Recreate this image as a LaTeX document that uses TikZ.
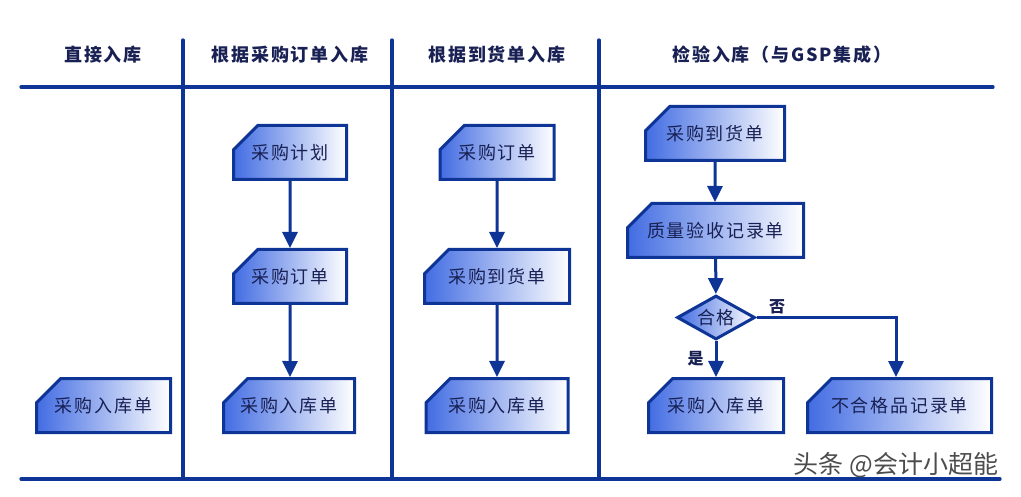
\documentclass[tikz,border=0pt]{standalone}
\usepackage{fontspec}
\setmainfont{Noto Sans CJK SC}[LetterSpace=10]
\newfontfamily\wmfont{Noto Sans CJK SC}
\usetikzlibrary{positioning, shapes.misc, shapes.geometric, arrows.meta}

\definecolor{lanecol}{RGB}{14,52,150}
\definecolor{cardfill}{RGB}{66,108,226}
\definecolor{inktext}{RGB}{24,32,84}

\tikzset{
	lane/.style={draw=lanecol, line width=3.2pt, line cap=round},
	head/.style={font=\bfseries\fontsize{18}{20}\selectfont, text=inktext},
	card/.style={chamfered rectangle, chamfered rectangle corners=north west,
		chamfered rectangle sep=16pt, draw=lanecol, line width=3pt,
		left color=cardfill, right color=white, text=inktext,
		minimum height=54pt, inner sep=0pt,
		font=\fontsize{18}{20}\selectfont},
	check/.style={diamond, draw=lanecol, line width=3pt, aspect=1.75,
		left color=cardfill, right color=white, text=inktext,
		minimum width=78pt, minimum height=44pt, inner sep=0pt,
		font=\fontsize{18}{20}\selectfont},
	flow/.style={draw=lanecol, line width=3pt, -{Triangle[width=15pt,length=16pt]}},
	tag/.style={font=\bfseries\fontsize{16}{18}\selectfont, text=inktext, inner sep=1pt},
	watermark/.style={font=\wmfont\fontsize{25}{28}\selectfont, text=black!70}
}

\begin{document}
\begin{tikzpicture}[x=1pt, y=-1pt]
	\useasboundingbox (0,0) rectangle (1021,497);

	% lanes
	\draw[lane] (21,87) -- (993,87);
	\draw[lane] (21,479) -- (1000,479);
	\foreach \x in {183,392,599}
		\draw[lane] (\x,40) -- (\x,479);

	% headers
	\node[head] (h1) at (103,55) {直接入库};
	\node[head] (h2) at (290,55) {根据采购订单入库};
	\node[head] (h3) at (497,55) {根据到货单入库};
	\node[head] (h4) at (782,55) {检验入库（与GSP集成）};

	% direct
	\node[card, minimum width=134pt] (ruku1) at (103.5,405.5) {采购入库单};

	% by purchase order
	\node[card, minimum width=113pt] (plan2) at (290,152.5) {采购计划};
	\node[card, minimum width=113pt] (order2) at (290,276.5) {采购订单};
	\node[card, minimum width=131pt] (ruku2) at (289,405.5) {采购入库单};

	% by arrival note
	\node[card, minimum width=114pt] (order3) at (497,152.5) {采购订单};
	\node[card, minimum width=145pt] (arrive3) at (497,276.5) {采购到货单};
	\node[card, minimum width=142pt] (ruku3) at (497,405.5) {采购入库单};

	% inspection
	\node[card, minimum width=139pt] (arrive4) at (715,133.5) {采购到货单};
	\node[card, minimum width=176pt] (quality) at (715.5,230.5) {质量验收记录单};
	\node[check] (pass) at (716,317.5) {合格};
	\node[card, minimum width=135pt] (ruku4) at (716,405.5) {采购入库单};
	\node[card, minimum width=184pt] (reject) at (899.5,405.5) {不合格品记录单};

	\draw[flow] (plan2) -- (order2);
	\draw[flow] (order2) -- (ruku2.north -| order2);
	\draw[flow] (order3) -- (arrive3);
	\draw[flow] (arrive3) -- (ruku3);
	\draw[flow] (arrive4) -- (quality.north -| arrive4);
	\draw[flow] (quality) -- (pass);
	\draw[flow] (pass) -- node[tag, left=10pt] (yes) {是} (ruku4);
	\draw[flow] (pass.east) -| (reject.north -| 896,0);
	\node[tag] (no) at (777,307) {否};

	\node[watermark] (wm) at (896,465) {头条 @会计小超能};
\end{tikzpicture}
\end{document}
